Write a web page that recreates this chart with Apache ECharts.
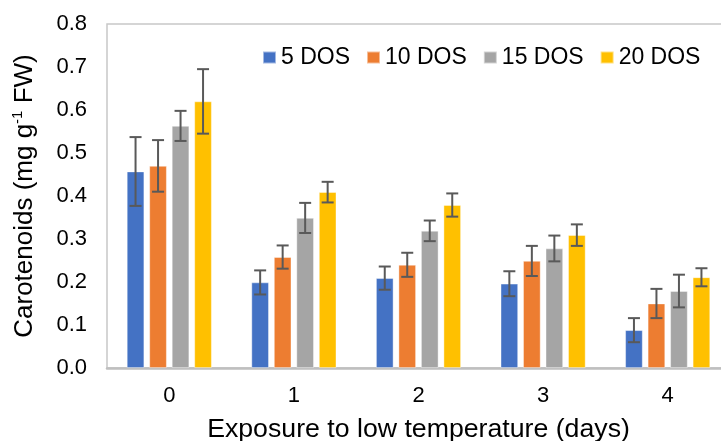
<!DOCTYPE html>
<html>
<head>
<meta charset="utf-8">
<script src="https://cdn.jsdelivr.net/npm/echarts@6/dist/echarts.min.js"></script>
<style>html,body{margin:0;padding:0;background:#fff;}#c{width:721px;height:441px;}</style>
</head>
<body>
<div id="c"></div>
<script>
var categories = ['0', '1', '2', '3', '4'];
var seriesNames = ['5 DOS', '10 DOS', '15 DOS', '20 DOS'];
var dos5 = [0.457, 0.199, 0.209, 0.196, 0.088];
var dos10 = [0.470, 0.258, 0.240, 0.249, 0.150];
var dos15 = [0.563, 0.349, 0.319, 0.278, 0.179];
var dos20 = [0.620, 0.409, 0.379, 0.309, 0.211];
var err5 = [0.080, 0.028, 0.027, 0.029, 0.028];
var err10 = [0.060, 0.027, 0.028, 0.035, 0.034];
var err15 = [0.035, 0.035, 0.024, 0.030, 0.038];
var err20 = [0.075, 0.024, 0.027, 0.025, 0.021];
var yTicks = ['0.0', '0.1', '0.2', '0.3', '0.4', '0.5', '0.6', '0.7', '0.8'];

var colors = ['#4472C4', '#ED7D31', '#A5A5A5', '#FFC000'];
var FONT = 'Liberation Sans, Arial, sans-serif';
var BAR_W = 17.5, BAR_GAP = 5;
var means = [dos5, dos10, dos15, dos20];
var errs = [err5, err10, err15, err20];

var series = [];
means.forEach(function (m, i) {
  series.push({
    name: seriesNames[i], type: 'bar', data: m,
    barWidth: BAR_W, barGap: (BAR_GAP / BAR_W * 100) + '%',
    itemStyle: { color: colors[i], borderColor: 'rgba(255,255,255,0.5)', borderWidth: 0.8 }
  });
});
means.forEach(function (m, i) {
  var offset = (i - 1.5) * (BAR_W + BAR_GAP);
  series.push({
    type: 'custom', name: seriesNames[i] + ' err', z: 5, silent: true,
    data: m.map(function (v, k) { return [k, v - errs[i][k], v + errs[i][k]]; }),
    renderItem: function (params, api) {
      var lo = api.coord([api.value(0), api.value(1)]);
      var hi = api.coord([api.value(0), api.value(2)]);
      var x = lo[0] + offset, cap = 6;
      var st = { stroke: '#595959', lineWidth: 2 };
      return { type: 'group', children: [
        { type: 'line', shape: { x1: x, y1: lo[1], x2: x, y2: hi[1] }, style: st },
        { type: 'line', shape: { x1: x - cap, y1: hi[1], x2: x + cap, y2: hi[1] }, style: st },
        { type: 'line', shape: { x1: x - cap, y1: lo[1], x2: x + cap, y2: lo[1] }, style: st }
      ]};
    }
  });
});

var chart = echarts.init(document.getElementById('c'), null, { renderer: 'canvas' });
chart.setOption({
  animation: false,
  textStyle: { fontFamily: FONT },
  legend: {
    data: seriesNames, left: 257, top: 41, icon: 'rect',
    itemWidth: 13, itemHeight: 12, itemGap: 16,
    textStyle: { fontSize: 23, color: '#000', fontFamily: FONT }
  },
  grid: {
    left: 107, top: 24, right: -9, bottom: 73, show: true,
    outerBoundsMode: 'none', containLabel: false,
    borderColor: '#C8C8C8', borderWidth: 1.5, backgroundColor: 'transparent'
  },
  xAxis: {
    type: 'category', data: categories,
    name: 'Exposure to low temperature (days)', nameLocation: 'middle', nameGap: 48,
    nameTextStyle: { fontSize: 26.7, color: '#000', fontFamily: FONT },
    axisLine: { show: true, lineStyle: { color: '#BFBFBF', width: 2.5 } },
    axisTick: { show: false },
    axisLabel: { fontSize: 22, color: '#000', margin: 17, fontFamily: FONT }
  },
  yAxis: {
    type: 'value', min: 0, max: 0.8, interval: 0.1,
    name: '{a|Carotenoids (mg g}{s|-1}{a| FW)}', nameLocation: 'middle', nameGap: 67,
    nameTextStyle: {
      color: '#000', fontFamily: FONT, padding: [0, 0, 0, 0],
      rich: {
        a: { fontSize: 26, color: '#000', fontFamily: FONT, lineHeight: 30 },
        s: { fontSize: 15, color: '#000', fontFamily: FONT, verticalAlign: 'top', lineHeight: 22 }
      }
    },
    axisLine: { show: false }, axisTick: { show: false }, splitLine: { show: false },
    axisLabel: {
      fontSize: 22, color: '#000', margin: 20, fontFamily: FONT,
      formatter: function (v) { return yTicks[Math.round(v * 10)]; }
    }
  },
  series: series
});
</script>
</body>
</html>
